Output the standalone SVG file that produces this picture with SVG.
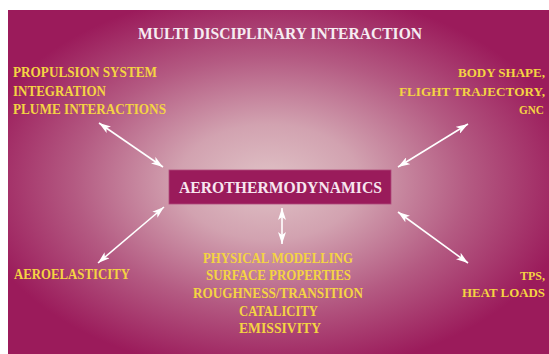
<svg xmlns="http://www.w3.org/2000/svg" width="549" height="354" viewBox="0 0 549 354">
  <defs>
    <radialGradient id="bg" cx="0.49" cy="0.5" r="0.56" fx="0.48" fy="0.5">
      <stop offset="0" stop-color="#e0c2c6"/>
      <stop offset="0.3" stop-color="#d2a2b0"/>
      <stop offset="0.65" stop-color="#b45a82"/>
      <stop offset="1" stop-color="#9b1b5b"/>
    </radialGradient>
    <marker id="ah" viewBox="0 0 12 8" refX="12" refY="4" markerWidth="12" markerHeight="8" markerUnits="userSpaceOnUse" orient="auto-start-reverse">
      <path d="M0,0 L12,4 L0,8 L3,4 Z" fill="#ffffff"/>
    </marker>
    <style>
      .lbl { font-family: "Liberation Serif", "Times New Roman", serif; font-weight: bold; font-size: 15.5px; fill: #f4d443; }
      .rt { font-size: 13.2px; }
      .conn line { stroke: #ffffff; stroke-width: 1.6; marker-start: url(#ah); marker-end: url(#ah); }
    </style>
  </defs>

  <rect x="0" y="0" width="549" height="354" fill="#ffffff"/>
  <rect x="8" y="10" width="541" height="344" fill="url(#bg)"/>

  <text id="title" x="138" y="39" font-family="Liberation Serif, serif" font-weight="bold" font-size="16" fill="#f6ecf2" textLength="284" lengthAdjust="spacingAndGlyphs">MULTI DISCIPLINARY INTERACTION</text>

  <g id="connectors" class="conn">
    <line x1="99" y1="123" x2="163" y2="167"/>
    <line x1="468" y1="124" x2="398" y2="167"/>
    <line x1="164" y1="207" x2="98" y2="263"/>
    <line x1="398" y1="212" x2="468" y2="263"/>
    <line x1="282" y1="208" x2="282" y2="244"/>
  </g>

  <g id="aerothermodynamics">
    <rect x="169" y="170" width="222" height="34" fill="#9a1b5b" stroke="#b04a7a" stroke-width="0.8"/>
    <text x="179" y="193" font-family="Liberation Serif, serif" font-weight="bold" font-size="17.5" fill="#f7e6ef" textLength="203" lengthAdjust="spacingAndGlyphs">AEROTHERMODYNAMICS</text>
  </g>

  <g id="propulsion">
    <text class="lbl" x="13" y="77" textLength="144" lengthAdjust="spacingAndGlyphs">PROPULSION SYSTEM</text>
    <text class="lbl" x="13" y="96" textLength="93" lengthAdjust="spacingAndGlyphs">INTEGRATION</text>
    <text class="lbl" x="13" y="114" textLength="153" lengthAdjust="spacingAndGlyphs">PLUME INTERACTIONS</text>
  </g>

  <g id="bodyshape">
    <text class="lbl rt" x="458" y="77" textLength="87" lengthAdjust="spacingAndGlyphs">BODY SHAPE,</text>
    <text class="lbl rt" x="399" y="96" textLength="146" lengthAdjust="spacingAndGlyphs">FLIGHT TRAJECTORY,</text>
    <text class="lbl rt" x="519" y="114" textLength="25" lengthAdjust="spacingAndGlyphs">GNC</text>
  </g>

  <g id="aeroelasticity">
    <text class="lbl" x="14" y="279" textLength="116" lengthAdjust="spacingAndGlyphs">AEROELASTICITY</text>
  </g>

  <g id="physical">
    <text class="lbl" x="203" y="263" textLength="150" lengthAdjust="spacingAndGlyphs">PHYSICAL MODELLING</text>
    <text class="lbl" x="206" y="280" textLength="145" lengthAdjust="spacingAndGlyphs">SURFACE PROPERTIES</text>
    <text class="lbl" x="193" y="298" textLength="170" lengthAdjust="spacingAndGlyphs">ROUGHNESS/TRANSITION</text>
    <text class="lbl" x="239" y="316" textLength="79" lengthAdjust="spacingAndGlyphs">CATALICITY</text>
    <text class="lbl" x="239" y="333" textLength="82" lengthAdjust="spacingAndGlyphs">EMISSIVITY</text>
  </g>

  <g id="tps">
    <text class="lbl rt" x="520" y="280" textLength="25" lengthAdjust="spacingAndGlyphs">TPS,</text>
    <text class="lbl rt" x="462" y="297" textLength="83" lengthAdjust="spacingAndGlyphs">HEAT LOADS</text>
  </g>
</svg>
